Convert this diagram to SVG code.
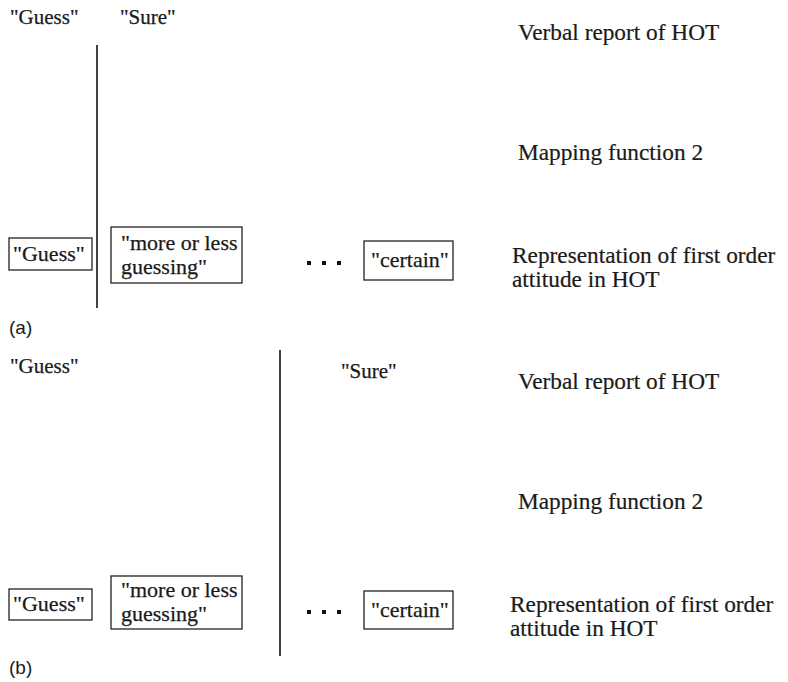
<svg xmlns="http://www.w3.org/2000/svg" width="788" height="682" viewBox="0 0 788 682">
  <style>
    .t { font-family: "Liberation Serif", "Times New Roman", serif; font-size: 21px; fill: #1a1a1a; stroke: #1a1a1a; stroke-width: 0.25; }
    .bt { font-family: "Liberation Serif", "Times New Roman", serif; font-size: 22px; fill: #1a1a1a; stroke: #1a1a1a; stroke-width: 0.25; }
    .lbl { font-family: "Liberation Serif", "Times New Roman", serif; font-size: 23.3px; fill: #1a1a1a; stroke: #1a1a1a; stroke-width: 0.2; }
    .tag { font-family: "Liberation Sans", Arial, sans-serif; font-size: 19px; fill: #1a1a1a; }
    .box { fill: #ffffff; stroke: #222222; stroke-width: 1.3; }
    .div { stroke: #111111; stroke-width: 1.6; }
    .dot { fill: #111111; }
  </style>
  <rect width="788" height="682" fill="#ffffff"/>

  <!-- Panel (a) -->
  <g id="panel-a">
    <g id="a-resp-guess"><text class="t" x="10" y="24">"Guess"</text></g>
    <g id="a-resp-sure"><text class="t" x="120" y="24">"Sure"</text></g>
    <g id="a-verbal"><text class="lbl" x="518" y="40">Verbal report of HOT</text></g>
    <g id="a-mapping"><text class="lbl" x="518" y="160">Mapping function 2</text></g>
    <g id="a-box-guess">
      <rect class="box" x="9" y="238" width="83" height="32"/>
      <text class="bt" x="13" y="261">"Guess"</text>
    </g>
    <g id="a-box-more">
      <rect class="box" x="111" y="227" width="131" height="56"/>
      <text class="bt" x="121" y="250">"more or less</text>
      <text class="bt" x="121" y="274">guessing"</text>
    </g>
    <g id="a-ellipsis">
      <rect class="dot" x="307" y="261" width="4" height="4"/>
      <rect class="dot" x="322" y="261" width="4" height="4"/>
      <rect class="dot" x="337" y="261" width="4" height="4"/>
    </g>
    <g id="a-box-certain">
      <rect class="box" x="364" y="241" width="89" height="39"/>
      <text class="bt" x="371" y="267">"certain"</text>
    </g>
    <g id="a-representation">
      <text class="lbl" x="512" y="263">Representation of first order</text>
      <text class="lbl" x="512" y="287">attitude in HOT</text>
    </g>
    <g id="a-tag"><text class="tag" x="9" y="334">(a)</text></g>
  </g>

  <!-- Panel (b) -->
  <g id="panel-b">
    <g id="b-resp-guess"><text class="t" x="10" y="373">"Guess"</text></g>
    <g id="b-resp-sure"><text class="t" x="341" y="378">"Sure"</text></g>
    <g id="b-verbal"><text class="lbl" x="518" y="389">Verbal report of HOT</text></g>
    <g id="b-mapping"><text class="lbl" x="518" y="509">Mapping function 2</text></g>
    <g id="b-box-guess">
      <rect class="box" x="9" y="589" width="83" height="31"/>
      <text class="bt" x="13" y="611">"Guess"</text>
    </g>
    <g id="b-box-more">
      <rect class="box" x="111" y="576" width="131" height="53"/>
      <text class="bt" x="121" y="597">"more or less</text>
      <text class="bt" x="121" y="621">guessing"</text>
    </g>
    <g id="b-ellipsis">
      <rect class="dot" x="307" y="610" width="4" height="4"/>
      <rect class="dot" x="322" y="610" width="4" height="4"/>
      <rect class="dot" x="337" y="610" width="4" height="4"/>
    </g>
    <g id="b-box-certain">
      <rect class="box" x="364" y="591" width="89" height="38"/>
      <text class="bt" x="371" y="617">"certain"</text>
    </g>
    <g id="b-representation">
      <text class="lbl" x="510" y="612">Representation of first order</text>
      <text class="lbl" x="510" y="636">attitude in HOT</text>
    </g>
    <g id="b-tag"><text class="tag" x="9" y="674">(b)</text></g>
  </g>

  <!-- Dividing lines between response categories -->
  <g id="connectors">
    <line class="div" x1="97" y1="45" x2="97" y2="308"/>
    <line class="div" x1="280" y1="350" x2="280" y2="656"/>
  </g>
</svg>
